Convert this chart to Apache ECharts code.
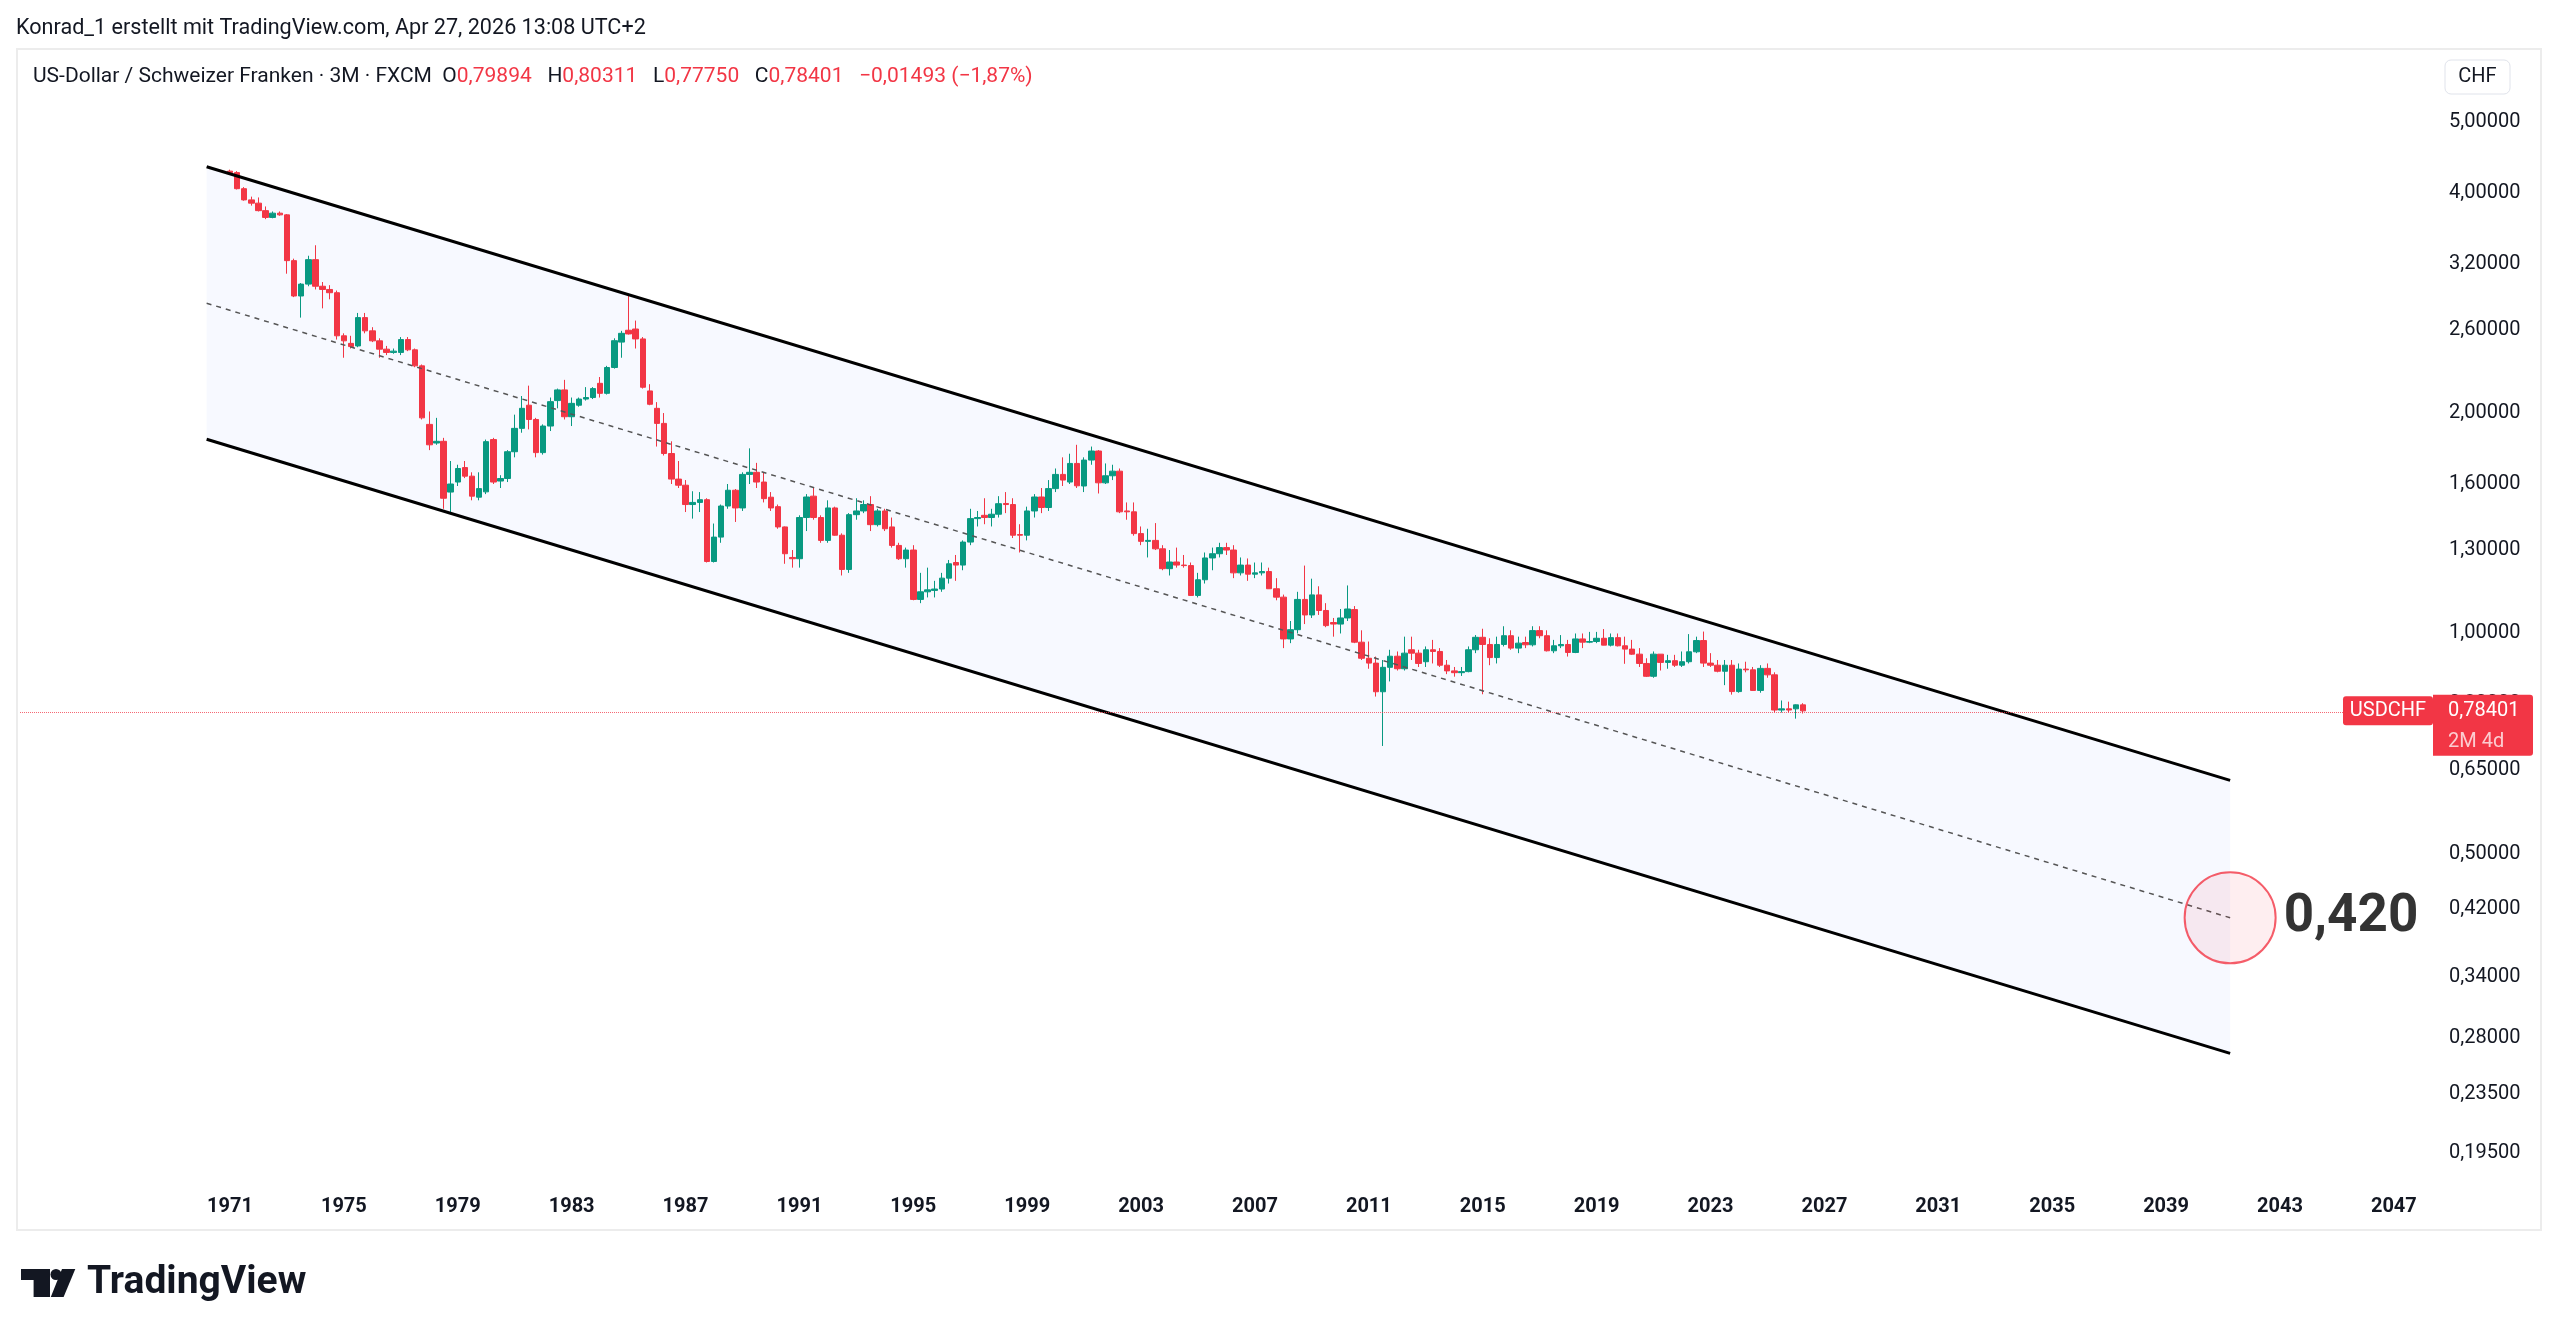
<!DOCTYPE html>
<html>
<head>
<meta charset="utf-8">
<title>USDCHF 3M</title>
<script src="https://cdn.jsdelivr.net/npm/echarts@6/dist/echarts.min.js"></script>
<style>
  html, body { margin: 0; padding: 0; background: #ffffff; }
  #chart { width: 2560px; height: 1337px; }
</style>
</head>
<body>
<div id="chart"></div>
<script>
// quarterly candles USD/CHF (FXCM), first one is 1971 Q1 -> [open, high, low, close]
const firstCandle = '1971 Q1'
const ohlc = [
  [4.28, 4.30, 4.25, 4.26], [4.26, 4.28, 4.04, 4.05], [4.05, 4.07, 3.90, 3.91], [3.91, 3.95, 3.84, 3.87],
  [3.87, 3.94, 3.77, 3.78], [3.78, 3.83, 3.68, 3.70], [3.70, 3.77, 3.69, 3.75], [3.75, 3.77, 3.72, 3.73],
  [3.73, 3.74, 3.10, 3.23], [3.23, 3.25, 2.88, 2.89], [2.89, 3.01, 2.70, 3.00], [3.00, 3.28, 2.98, 3.24],
  [3.24, 3.39, 2.95, 2.98], [2.98, 3.02, 2.78, 2.95], [2.95, 2.99, 2.86, 2.92], [2.92, 2.94, 2.52, 2.55],
  [2.55, 2.57, 2.38, 2.51], [2.49, 2.55, 2.45, 2.465], [2.47, 2.74, 2.46, 2.70], [2.70, 2.74, 2.57, 2.59],
  [2.59, 2.62, 2.50, 2.51], [2.51, 2.53, 2.38, 2.445], [2.445, 2.47, 2.40, 2.42], [2.42, 2.45, 2.41, 2.43],
  [2.42, 2.54, 2.40, 2.52], [2.52, 2.54, 2.43, 2.44], [2.44, 2.45, 2.31, 2.32], [2.32, 2.33, 1.96, 1.97],
  [1.93, 2.01, 1.78, 1.81], [1.82, 1.97, 1.81, 1.83], [1.83, 1.85, 1.48, 1.53], [1.56, 1.72, 1.46, 1.60],
  [1.61, 1.70, 1.59, 1.68], [1.685, 1.72, 1.63, 1.64], [1.64, 1.66, 1.52, 1.54], [1.535, 1.66, 1.52, 1.577],
  [1.561, 1.84, 1.55, 1.828], [1.84, 1.85, 1.60, 1.61], [1.615, 1.645, 1.58, 1.628], [1.628, 1.78, 1.61, 1.771],
  [1.771, 1.99, 1.74, 1.906], [1.906, 2.11, 1.88, 2.03], [2.05, 2.18, 1.90, 1.96], [1.96, 1.97, 1.74, 1.766],
  [1.766, 1.93, 1.755, 1.92], [1.92, 2.10, 1.89, 2.073], [2.08, 2.16, 2.03, 2.151], [2.151, 2.22, 1.96, 1.977],
  [1.977, 2.10, 1.92, 2.062], [2.05, 2.10, 2.04, 2.09], [2.09, 2.17, 2.08, 2.10], [2.10, 2.17, 2.09, 2.16],
  [2.196, 2.24, 2.10, 2.128], [2.128, 2.32, 2.12, 2.308], [2.308, 2.53, 2.30, 2.511], [2.50, 2.59, 2.38, 2.57],
  [2.595, 2.896, 2.56, 2.565], [2.605, 2.675, 2.45, 2.525], [2.525, 2.54, 2.16, 2.169], [2.144, 2.19, 2.05, 2.056],
  [2.03, 2.07, 1.80, 1.936], [1.936, 2.00, 1.75, 1.761], [1.761, 1.83, 1.60, 1.625], [1.625, 1.72, 1.58, 1.594],
  [1.594, 1.62, 1.465, 1.500], [1.500, 1.564, 1.435, 1.510], [1.510, 1.56, 1.465, 1.523], [1.523, 1.53, 1.25, 1.254],
  [1.254, 1.413, 1.25, 1.354], [1.354, 1.50, 1.33, 1.493], [1.493, 1.60, 1.48, 1.569], [1.569, 1.575, 1.42, 1.484],
  [1.484, 1.66, 1.47, 1.649], [1.649, 1.79, 1.60, 1.66], [1.66, 1.71, 1.58, 1.61], [1.61, 1.66, 1.51, 1.528],
  [1.535, 1.56, 1.47, 1.484], [1.49, 1.50, 1.39, 1.398], [1.398, 1.40, 1.245, 1.285], [1.27, 1.30, 1.23, 1.265],
  [1.265, 1.45, 1.23, 1.44], [1.44, 1.55, 1.38, 1.536], [1.54, 1.58, 1.43, 1.44], [1.44, 1.45, 1.33, 1.34],
  [1.34, 1.52, 1.33, 1.484], [1.484, 1.49, 1.36, 1.362], [1.362, 1.37, 1.20, 1.223], [1.223, 1.46, 1.21, 1.453],
  [1.453, 1.53, 1.43, 1.47], [1.47, 1.52, 1.46, 1.50], [1.50, 1.54, 1.38, 1.408], [1.408, 1.48, 1.40, 1.47],
  [1.47, 1.48, 1.38, 1.39], [1.398, 1.44, 1.31, 1.319], [1.319, 1.33, 1.26, 1.265], [1.265, 1.31, 1.23, 1.30],
  [1.30, 1.32, 1.11, 1.113], [1.113, 1.21, 1.10, 1.14], [1.14, 1.23, 1.12, 1.147], [1.145, 1.18, 1.12, 1.15],
  [1.15, 1.21, 1.14, 1.19], [1.19, 1.26, 1.17, 1.245], [1.25, 1.28, 1.18, 1.24], [1.24, 1.34, 1.22, 1.333],
  [1.333, 1.48, 1.32, 1.435], [1.435, 1.47, 1.40, 1.44], [1.45, 1.53, 1.41, 1.44], [1.44, 1.48, 1.40, 1.455],
  [1.455, 1.54, 1.44, 1.504], [1.505, 1.56, 1.46, 1.50], [1.50, 1.53, 1.35, 1.362], [1.365, 1.41, 1.29, 1.362],
  [1.362, 1.49, 1.34, 1.47], [1.47, 1.55, 1.44, 1.536], [1.536, 1.58, 1.46, 1.486], [1.486, 1.62, 1.47, 1.577],
  [1.577, 1.68, 1.56, 1.649], [1.649, 1.74, 1.59, 1.62], [1.61, 1.76, 1.60, 1.707], [1.707, 1.81, 1.58, 1.591],
  [1.59, 1.74, 1.56, 1.725], [1.725, 1.80, 1.70, 1.775], [1.775, 1.78, 1.553, 1.606], [1.606, 1.707, 1.60, 1.642],
  [1.642, 1.70, 1.62, 1.666], [1.666, 1.68, 1.46, 1.466], [1.47, 1.51, 1.43, 1.466], [1.466, 1.51, 1.36, 1.369],
  [1.369, 1.40, 1.32, 1.336], [1.336, 1.39, 1.27, 1.34], [1.34, 1.415, 1.30, 1.305], [1.305, 1.32, 1.22, 1.226],
  [1.226, 1.30, 1.20, 1.252], [1.252, 1.31, 1.23, 1.24], [1.24, 1.28, 1.23, 1.238], [1.238, 1.25, 1.125, 1.127],
  [1.127, 1.21, 1.12, 1.184], [1.184, 1.29, 1.17, 1.268], [1.268, 1.31, 1.22, 1.285], [1.285, 1.33, 1.27, 1.31],
  [1.31, 1.33, 1.28, 1.30], [1.30, 1.32, 1.19, 1.21], [1.21, 1.27, 1.20, 1.24], [1.24, 1.266, 1.18, 1.205],
  [1.205, 1.25, 1.19, 1.21], [1.21, 1.25, 1.20, 1.215], [1.215, 1.23, 1.15, 1.151], [1.151, 1.19, 1.11, 1.121],
  [1.121, 1.13, 0.955, 0.983], [0.983, 1.04, 0.97, 1.012], [1.012, 1.14, 1.00, 1.113], [1.113, 1.238, 1.03, 1.06],
  [1.06, 1.188, 1.05, 1.129], [1.129, 1.16, 1.06, 1.075], [1.075, 1.10, 1.02, 1.025], [1.035, 1.05, 0.99, 1.03],
  [1.03, 1.08, 1.00, 1.05], [1.05, 1.163, 1.04, 1.08], [1.078, 1.09, 0.97, 0.973], [0.973, 1.01, 0.92, 0.925],
  [0.925, 0.975, 0.895, 0.911], [0.911, 0.93, 0.82, 0.8325], [0.8325, 0.92, 0.702, 0.899], [0.899, 0.95, 0.86, 0.931],
  [0.931, 0.945, 0.89, 0.895], [0.895, 0.99, 0.89, 0.94], [0.95, 0.99, 0.92, 0.94], [0.94, 0.95, 0.90, 0.91],
  [0.915, 0.96, 0.90, 0.95], [0.95, 0.98, 0.91, 0.945], [0.945, 0.955, 0.90, 0.905], [0.905, 0.92, 0.88, 0.889],
  [0.889, 0.90, 0.873, 0.884], [0.884, 0.90, 0.875, 0.887], [0.887, 0.96, 0.885, 0.950], [0.950, 0.995, 0.94, 0.988],
  [0.988, 1.015, 0.826, 0.966], [0.966, 0.985, 0.905, 0.927], [0.927, 0.99, 0.91, 0.966], [0.966, 1.023, 0.96, 0.993],
  [0.993, 1.01, 0.95, 0.955], [0.955, 0.99, 0.94, 0.970], [0.972, 0.99, 0.955, 0.965], [0.965, 1.023, 0.96, 1.009],
  [1.009, 1.023, 0.985, 0.993], [0.993, 1.01, 0.945, 0.947], [0.947, 0.98, 0.94, 0.962], [0.962, 0.995, 0.955, 0.966],
  [0.966, 0.98, 0.93, 0.942], [0.942, 1.00, 0.94, 0.983], [0.983, 1.00, 0.955, 0.973], [0.973, 1.005, 0.97, 0.975],
  [0.975, 1.005, 0.97, 0.985], [0.985, 1.014, 0.965, 0.964], [0.964, 1.00, 0.96, 0.987], [0.987, 1.00, 0.96, 0.962],
  [0.962, 0.99, 0.909, 0.952], [0.952, 0.98, 0.935, 0.937], [0.937, 0.955, 0.90, 0.910], [0.910, 0.925, 0.872, 0.874],
  [0.874, 0.945, 0.87, 0.937], [0.937, 0.937, 0.89, 0.913], [0.913, 0.935, 0.895, 0.918], [0.918, 0.935, 0.90, 0.905],
  [0.905, 0.945, 0.90, 0.915], [0.915, 0.998, 0.91, 0.944], [0.944, 0.99, 0.94, 0.978], [0.978, 1.006, 0.90, 0.911],
  [0.911, 0.94, 0.90, 0.905], [0.905, 0.92, 0.885, 0.888], [0.888, 0.92, 0.85, 0.905], [0.905, 0.92, 0.825, 0.833],
  [0.833, 0.91, 0.83, 0.894], [0.894, 0.915, 0.885, 0.892], [0.892, 0.90, 0.835, 0.836], [0.836, 0.905, 0.83, 0.896],
  [0.896, 0.91, 0.87, 0.878], [0.878, 0.885, 0.78, 0.786], [0.786, 0.81, 0.78, 0.789], [0.789, 0.807, 0.78, 0.786],
  [0.789, 0.80, 0.765, 0.79894], [0.79894, 0.80311, 0.7775, 0.78401],
]

// price scale ticks (log), hidden 0,8 sits under the price tag
const priceTicks = [5, 4, 3.2, 2.6, 2, 1.6, 1.3, 1, 0.8, 0.65, 0.5, 0.42, 0.34, 0.28, 0.235, 0.195]
const yearLabelStep = 4
const firstYearLabel = 1971

// parallel channel drawn by the author (years, prices)
const channelYears = [1970.18, 2041.25]
const channelUpper = [4.34, 0.63]
const channelLower = [1.842, 0.267]
const channelMid = [2.825, 0.409]
const targetText = '0,420'

const lastClose = ohlc[ohlc.length - 1][3]

// time scale: 1963 Q4 .. 2048 Q2
const categories = []
for (let y = 1963, q = 4; y < 2048 || (y === 2048 && q <= 2); ) {
  categories.push(`${y} Q${q}`)
  q++
  if (q > 4) { q = 1; y++ }
}
const offset = categories.indexOf(firstCandle)
const candleData = categories.map((c, i) => {
  const row = ohlc[i - offset]
  return row ? [row[0], row[3], row[2], row[1]] : '-'
})
// value axis spanning the same bands, for the drawings
const xMin = 1963.75 - 0.125
const xMax = xMin + categories.length * 0.25

const yMin = 0.1793
const yMax = 6.284

const UP = '#089981'
const DOWN = '#f23645'
const TEXT = '#131722'
const FONT = 'Roboto, "Noto Sans", sans-serif'

function fmtPrice(v, digits) {
  return v.toFixed(digits).replace('.', ',')
}

const chart = echarts.init(document.getElementById('chart'))

chart.setOption({
  animation: false,
  backgroundColor: '#ffffff',
  textStyle: { fontFamily: FONT },
  grid: { left: 20, right: 127, top: 49, bottom: 157 },
  xAxis: [
    {
      type: 'category',
      data: categories,
      axisLine: { show: false },
      axisTick: { show: false },
      splitLine: { show: false },
      axisLabel: {
        interval: (i, v) => {
          const y = +v.slice(0, 4)
          return v.endsWith('Q1') && y >= firstYearLabel && (y - firstYearLabel) % yearLabelStep === 0
        },
        formatter: (v) => v.slice(0, 4),
        color: TEXT,
        fontSize: 20,
        fontWeight: 'bold',
        margin: 17,
      },
    },
    { type: 'value', min: xMin, max: xMax, show: false },
  ],
  yAxis: [
    {
      type: 'log',
      min: yMin,
      max: yMax,
      position: 'right',
      offset: 0,
      axisLine: { show: false },
      axisTick: { show: false },
      axisLabel: { show: false },
      splitLine: { show: false },
    },
    {
      type: 'value',
      min: Math.log(yMin),
      max: Math.log(yMax),
      position: 'right',
      offset: 0,
      axisLine: { show: false },
      axisTick: { show: false },
      splitLine: { show: false },
      axisLabel: {
        customValues: priceTicks.map((t) => Math.log(t)),
        formatter: (v) => fmtPrice(Math.exp(v), 5),
        color: TEXT,
        fontSize: 20,
        margin: 16,
      },
    },
  ],
  series: [
    {
      type: 'custom',
      xAxisIndex: 1,
      yAxisIndex: 0,
      silent: true,
      z: 1,
      data: [[channelYears[0], channelUpper[0], channelLower[0], channelYears[1], channelUpper[1], channelLower[1]]],
      renderItem: (params, api) => {
        const pts = [
          api.coord([api.value(0), api.value(1)]),
          api.coord([api.value(3), api.value(4)]),
          api.coord([api.value(3), api.value(5)]),
          api.coord([api.value(0), api.value(2)]),
        ]
        return { type: 'polygon', shape: { points: pts }, style: { fill: 'rgba(41,98,255,0.035)' } }
      },
    },
    {
      type: 'candlestick',
      xAxisIndex: 0,
      yAxisIndex: 0,
      z: 2,
      barWidth: 6,
      data: candleData,
      itemStyle: { color: UP, color0: DOWN, borderColor: UP, borderColor0: DOWN, borderWidth: 1 },
      markLine: {
        silent: true,
        symbol: ['none', 'none'],
        label: { show: false },
        lineStyle: { color: 'rgba(242,54,69,0.75)', type: 'dotted', width: 1 },
        data: [{ yAxis: lastClose }],
      },
    },
    {
      type: 'line',
      xAxisIndex: 1,
      yAxisIndex: 0,
      z: 3,
      silent: true,
      symbol: 'none',
      lineStyle: { color: '#000000', width: 3 },
      data: channelYears.map((x, i) => [x, channelUpper[i]]),
    },
    {
      type: 'line',
      xAxisIndex: 1,
      yAxisIndex: 0,
      z: 3,
      silent: true,
      symbol: 'none',
      lineStyle: { color: '#000000', width: 3 },
      data: channelYears.map((x, i) => [x, channelLower[i]]),
    },
    {
      type: 'line',
      xAxisIndex: 1,
      yAxisIndex: 0,
      z: 3,
      silent: true,
      symbol: 'none',
      lineStyle: { color: '#555555', width: 1.5, type: [5, 5] },
      data: channelYears.map((x, i) => [x, channelMid[i]]),
    },
    {
      type: 'scatter',
      xAxisIndex: 1,
      yAxisIndex: 0,
      z: 4,
      silent: true,
      symbolSize: 91,
      itemStyle: { color: 'rgba(242,54,69,0.1)', borderColor: '#f23645', borderWidth: 2 },
      label: {
        show: true,
        position: 'right',
        distance: 7,
        formatter: targetText,
        color: '#000000',
        fontSize: 53,
        fontWeight: 'bold',
        fontFamily: FONT,
      },
      data: [[channelYears[1], channelMid[1]]],
    },
  ],
})

// price tag sits at the last close on the price scale
const py = chart.convertToPixel({ yAxisIndex: 0 }, lastClose)

chart.setOption({
  graphic: [
    {
      type: 'rect',
      shape: { x: 17, y: 49, width: 2524, height: 1181 },
      style: { fill: 'none', stroke: '#ececec', lineWidth: 2 },
      silent: true,
    },
    {
      type: 'text',
      left: 16,
      top: 18,
      style: { text: 'Konrad_1 erstellt mit TradingView.com, Apr 27, 2026 13:08 UTC+2', fill: TEXT, font: '21.6px ' + FONT },
    },
    {
      type: 'text',
      x: 33,
      y: 77,
      style: {
        text: 'US-Dollar / Schweizer Franken · 3M · FXCM  O{r|0,79894}   H{r|0,80311}   L{r|0,77750}   C{r|0,78401}   {r|−0,01493 (−1,87%)}',
        fill: TEXT,
        font: '21px ' + FONT,
        verticalAlign: 'middle',
        rich: { r: { fill: DOWN, font: '21px ' + FONT } },
      },
    },
    {
      type: 'rect',
      shape: { x: 2445, y: 60, width: 65, height: 34, r: 6 },
      style: { fill: '#ffffff', stroke: '#e0e3eb', lineWidth: 1 },
    },
    {
      type: 'text',
      x: 2477.5,
      y: 77,
      style: { text: 'CHF', fill: TEXT, font: '20px ' + FONT, align: 'center', verticalAlign: 'middle' },
    },
    {
      type: 'rect',
      z: 100,
      shape: { x: 2343, y: py - 14.5, width: 90, height: 29, r: 3 },
      style: { fill: DOWN },
    },
    {
      type: 'text',
      z: 101,
      x: 2388,
      y: py,
      style: { text: 'USDCHF', fill: '#ffffff', font: '20px ' + FONT, align: 'center', verticalAlign: 'middle' },
    },
    {
      type: 'rect',
      z: 100,
      shape: { x: 2433, y: py - 16, width: 100, height: 61, r: [0, 3, 3, 0] },
      style: { fill: DOWN },
    },
    {
      type: 'text',
      z: 101,
      x: 2448,
      y: py,
      style: { text: fmtPrice(lastClose, 5), fill: '#ffffff', font: '20px ' + FONT, verticalAlign: 'middle' },
    },
    {
      type: 'text',
      z: 101,
      x: 2448,
      y: py + 31,
      style: { text: '2M 4d', fill: 'rgba(255,255,255,0.75)', font: '20px ' + FONT, verticalAlign: 'middle' },
    },
    // TradingView mark + wordmark
    {
      type: 'group',
      x: 21,
      y: 1269,
      children: [
        { type: 'polygon', shape: { points: [[0, 0], [29, 0], [29, 28], [12.6, 28], [12.6, 11], [0, 11]] }, style: { fill: '#131722' } },
        { type: 'circle', shape: { cx: 35, cy: 5.5, r: 5.5 }, style: { fill: '#131722' } },
        { type: 'polygon', shape: { points: [[41, 0], [54.3, 0], [42.6, 28], [29.8, 28]] }, style: { fill: '#131722' } },
      ],
    },
    {
      type: 'text',
      x: 87,
      y: 1283,
      style: { text: 'TradingView', fill: '#131722', font: 'bold 39px ' + FONT, verticalAlign: 'middle' },
    },
  ],
})
</script>
</body>
</html>
